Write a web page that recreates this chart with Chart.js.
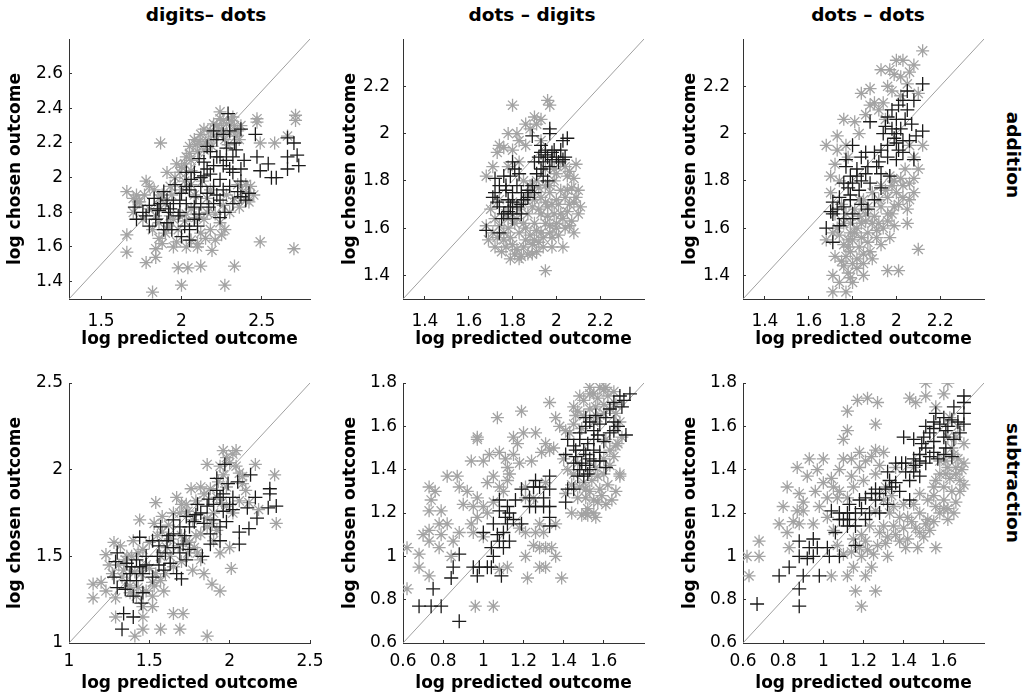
<!DOCTYPE html>
<html>
<head>
<meta charset="utf-8">
<script src="https://cdn.jsdelivr.net/npm/chart.js@4.4.0/dist/chart.umd.min.js"></script>
<style>
  body { margin: 0; background: #fff; }
  #fig { position: relative; width: 1022px; height: 699px; overflow: hidden; font-family: "DejaVu Sans", sans-serif; }
  #fig canvas { position: absolute; }
  .col-title { position: absolute; top: 4px; font-weight: bold; font-size: 18.5px; transform: translateX(-50%); white-space: nowrap; color: #000; }
  .row-label { position: absolute; font-weight: bold; font-size: 18.5px; white-space: nowrap; color: #000;
               transform: translate(-50%, -50%) rotate(90deg); }
</style>
</head>
<body>
<div id="fig">
  <div class="col-title" style="left:206px">digits– dots</div>
  <div class="col-title" style="left:532px">dots – digits</div>
  <div class="col-title" style="left:868px">dots – dots</div>
  <div class="row-label" style="left:1013px; top:155px">addition</div>
  <div class="row-label" style="left:1013px; top:483px">subtraction</div>
  <canvas id="p1" width="330" height="350" style="left:0px; top:0px"></canvas>
  <canvas id="p2" width="330" height="350" style="left:335px; top:0px"></canvas>
  <canvas id="p3" width="320" height="350" style="left:675px; top:0px"></canvas>
  <canvas id="p4" width="330" height="349" style="left:0px; top:350px"></canvas>
  <canvas id="p5" width="330" height="349" style="left:335px; top:350px"></canvas>
  <canvas id="p6" width="320" height="349" style="left:675px; top:350px"></canvas>
</div>
<script>
// ---- data: [log predicted, log chosen] ----
// addition, digits - dots
const addDigDotStar = [[1.87,2.20],[2.24,2.38],[2.47,2.34],[2.47,2.32],[2.71,2.36],[2.71,2.33],[2.66,2.24],[2.49,2.20],[2.58,2.20],[1.66,1.92],[1.78,1.98],[1.73,1.86],[1.66,1.67],[1.66,1.57],[1.78,1.51],[1.84,1.59],[1.84,1.54],[1.82,1.34],[1.98,1.48],[2.00,1.38],[2.04,1.48],[2.12,1.49],[2.27,1.38],[2.33,1.49],[2.49,1.63],[2.70,1.59],[2.10,1.60],[2.19,1.58],[2.27,1.70],[2.21,1.64],[1.95,1.60],[1.91,2.03],[2.40,1.87],[2.43,1.95],
  [2.05,2.18],[2.08,2.22],[2.12,2.25],[2.15,2.20],[2.18,2.27],[2.22,2.30],[2.25,2.28],[2.28,2.31],[2.30,2.26],[2.33,2.30],[2.35,2.27],[2.20,2.24],[2.10,2.15],[2.03,2.12],[2.26,2.33],[2.31,2.33],[2.36,2.22],
  [1.96,2.00],[2.00,2.06],[1.93,1.95],[1.88,1.90],[1.84,1.78],[1.80,1.82],[1.76,1.76],[1.90,1.68],[1.86,1.65],[1.92,1.72],[2.02,1.75],[2.06,1.82],[2.14,1.76],[2.18,1.70],[2.24,1.74],[2.30,1.80],[2.36,1.83],[2.42,1.86],[2.38,1.92],[2.28,1.90],[2.16,1.88],[2.08,1.90],[2.00,1.93],[1.74,1.86],[1.70,1.80],[1.88,1.62],[2.06,1.64],[2.12,1.68],
  [2.02,2.08],[2.06,2.10],[2.09,2.19],[2.14,2.16],[2.17,2.22],[2.19,2.18],[2.23,2.25],[2.27,2.22],[2.29,2.19],[2.34,2.24],[2.37,2.30],[2.32,2.35],[2.24,2.34],[2.20,2.31],[2.14,2.28],[2.11,2.21],[2.05,2.14],[1.99,2.03],[1.97,2.08],[2.02,1.98],[2.06,2.04],[1.94,1.90],[1.90,1.85],[1.86,1.88],[1.83,1.93],[1.80,1.95],[1.77,1.90],[1.72,1.90],[1.70,1.88],[1.82,1.70],[1.86,1.74],[1.95,1.76],[1.98,1.70],[2.03,1.79],[2.09,1.77],[2.16,1.80],[2.21,1.79],[2.26,1.84],[2.33,1.88],[2.40,1.96],[2.45,1.90],[2.35,1.96],[2.18,1.93],[2.13,1.98],[2.10,1.62],[2.03,1.60],[1.97,1.63],[2.15,1.65],[2.25,1.67],[1.93,1.78],[2.06,1.96]];
const addDigDotPlus = [[2.29,2.37],[2.20,2.27],[2.30,2.27],[2.37,2.28],[2.46,2.25],[2.22,2.22],[2.16,2.18],[2.33,2.20],[2.28,2.17],[2.11,2.11],[2.22,2.12],[2.32,2.12],[2.39,2.10],[2.47,2.12],[2.54,2.08],[2.49,2.04],[2.56,2.00],[2.59,2.00],[2.66,2.23],[2.70,2.20],[2.66,2.12],[2.72,2.13],[2.73,2.07],[2.66,2.05],[2.37,1.98],[2.42,1.91],[2.37,1.89],[2.32,1.85],[2.40,1.87],[2.27,1.80],[2.24,1.77],[2.17,1.83],[2.03,2.03],[2.06,1.99],[2.12,1.95],[2.05,1.93],[2.09,1.89],[2.16,1.91],[2.20,1.95],[2.24,1.99],[2.30,2.05],[2.26,2.07],[2.16,2.05],[2.14,2.01],[1.99,1.87],[1.95,1.85],[1.91,1.87],[1.87,1.85],[1.83,1.88],[1.80,1.84],[1.89,1.92],[1.76,1.80],[1.72,1.76],[1.80,1.72],[1.85,1.82],[1.93,1.82],[1.98,1.78],[1.91,1.74],[1.89,1.70],[1.94,1.70],[2.00,1.66],[2.05,1.70],[2.10,1.72],[2.05,1.64],[2.11,1.79],[1.99,1.80],[2.03,1.85],[2.08,1.83],[2.12,1.85],[2.20,1.85],[2.24,1.87],[2.03,1.95],[2.00,1.91],[2.08,2.03],[2.14,2.09],[2.20,2.07],[2.24,2.12],[2.28,2.10],[2.32,2.03],[2.37,2.05],[2.30,1.95],[1.71,1.83],[1.86,1.81],
  [2.18,2.15],[2.26,2.25],[2.34,2.16],[2.12,2.00],[2.18,2.02],[2.26,1.93],[2.22,1.90],[1.96,1.96],[1.92,1.80],[1.84,1.76],[1.78,1.78],[2.02,1.72],[2.08,1.76],[2.35,1.92]];

// addition, dots - digits
const addDotDigStar = [[1.80,2.12],[1.96,2.14],[1.97,2.12],[1.90,2.07],[1.93,2.06],[1.86,2.04],[1.78,2.00],[1.82,2.00],[1.74,1.95],[1.73,1.92],[1.68,1.82],[1.80,1.93],[1.86,1.95],[1.93,1.97],[2.09,1.87],[2.10,1.66],[2.05,1.76],[2.03,1.52],[1.95,1.42],[1.79,1.47],[1.84,1.48],[1.89,1.49],[1.72,1.52],[1.68,1.61],[1.71,1.58],[1.93,1.58],[1.90,1.55],[2.06,1.61],[2.08,1.71],[2.00,1.72],[1.96,1.65],[1.87,1.66],[1.83,1.58],[2.00,1.83],[2.05,1.82],[1.97,1.78],[1.93,1.73],[1.80,1.71],[1.77,1.66],[1.74,1.72],[2.08,1.81],
  [1.84,1.70],[1.88,1.74],[1.92,1.68],[1.95,1.62],[1.98,1.70],[2.02,1.66],[2.04,1.60],[1.90,1.62],[1.86,1.60],[1.82,1.64],[1.78,1.60],[1.76,1.55],[1.80,1.53],[1.86,1.55],[1.94,1.52],[1.98,1.56],[2.02,1.76],[1.99,1.80],[1.95,1.85],[1.91,1.80],[1.88,1.78],[2.04,1.86],[2.06,1.70],[2.10,1.76],[1.72,1.64],[1.75,1.50],[1.83,1.47],[1.97,1.61],[2.00,1.62],[1.92,1.77],
  [1.76,1.58],[1.79,1.56],[1.82,1.51],[1.85,1.52],[1.88,1.57],[1.91,1.59],[1.94,1.56],[1.97,1.58],[2.01,1.57],[2.03,1.64],[2.05,1.67],[2.07,1.63],[2.08,1.58],[1.99,1.66],[1.96,1.69],[1.93,1.66],[1.89,1.69],[1.86,1.72],[1.83,1.68],[1.81,1.62],[1.78,1.64],[1.74,1.61],[1.73,1.56],[1.77,1.52],[1.81,1.49],[1.87,1.49],[1.92,1.54],[1.95,1.71],[2.01,1.70],[2.04,1.73],[2.07,1.77],[2.06,1.84],[2.02,1.88],[1.99,1.85],[1.97,1.75],[1.95,1.78],[1.90,1.72],[1.85,1.80],[1.83,1.88],[1.78,1.86],[1.71,1.86],[1.70,1.68],[1.69,1.55],[1.91,1.50],[1.85,1.62],[2.09,1.73],[2.11,1.69],[1.98,1.52],[2.00,1.60],[1.89,1.53],[1.76,1.94],[1.83,1.97],[1.88,2.02],[1.91,2.04]];
const addDotDigPlus = [[1.97,2.02],[1.97,2.00],[1.89,1.99],[1.93,1.95],[2.05,1.98],[2.03,1.97],[1.95,1.93],[1.99,1.93],[2.02,1.93],[1.93,1.92],[1.96,1.90],[2.00,1.90],[2.03,1.89],[1.94,1.88],[1.90,1.88],[1.91,1.83],[1.94,1.82],[1.96,1.80],[1.93,1.85],[1.97,1.86],[1.80,1.88],[1.81,1.85],[1.83,1.83],[1.79,1.82],[1.76,1.82],[1.72,1.81],[1.74,1.78],[1.77,1.76],[1.80,1.75],[1.84,1.75],[1.87,1.76],[1.89,1.78],[1.90,1.75],[1.71,1.73],[1.73,1.71],[1.74,1.69],[1.76,1.66],[1.80,1.71],[1.79,1.69],[1.80,1.66],[1.84,1.66],[1.75,1.64],[1.80,1.64],[1.68,1.59],[1.74,1.58],[1.87,1.73],[1.82,1.78],[1.78,1.72],[1.98,1.92],[2.01,1.88],
  [1.95,1.91],[1.98,1.89],[2.04,1.90],[1.92,1.90],[1.85,1.72],[1.77,1.78],[1.82,1.69],[1.72,1.75],[1.78,1.67],[1.84,1.70]];

// addition, dots - dots
const addDotDotStar = [[2.12,2.35],[2.00,2.31],[2.03,2.31],[2.08,2.29],[1.93,2.27],[1.99,2.25],[2.02,2.24],[1.88,2.19],[1.84,2.17],[1.96,2.20],[1.90,2.13],[1.94,2.13],[1.76,2.06],[1.81,2.05],[1.68,1.95],[1.73,1.99],[1.73,1.93],[1.70,1.82],[2.08,1.90],[2.12,1.95],[2.08,1.81],[2.08,1.75],[2.00,1.75],[1.99,1.69],[1.96,1.66],[2.02,1.81],[2.06,1.79],[1.68,1.55],[1.72,1.48],[1.71,1.40],[1.76,1.44],[1.78,1.41],[1.80,1.45],[1.71,1.33],[1.77,1.33],[1.80,1.37],[1.85,1.40],[1.85,1.45],[1.96,1.42],[2.01,1.42],[2.10,1.51],[1.87,1.58],[1.91,1.59],[1.83,1.52],[1.80,1.55],[1.90,1.65],[1.93,1.69],[1.87,1.69],[1.96,1.73],[1.93,1.78],[1.83,1.72],[1.79,1.58],
  [1.76,1.62],[1.78,1.52],[1.82,1.60],[1.86,1.63],[1.88,1.50],[1.84,1.56],[1.92,1.62],[1.98,1.78],[2.04,1.85],[1.97,1.82],[1.74,1.57],[1.77,1.48],[1.75,1.70],[1.72,1.66],[1.95,2.06],[1.92,2.10],[1.86,2.08],[2.05,2.21],[1.98,2.18],[1.78,1.90],[2.06,1.95],[2.10,1.85],
  [1.78,1.55],[1.81,1.58],[1.84,1.62],[1.86,1.66],[1.89,1.62],[1.91,1.56],[1.94,1.60],[1.96,1.63],[1.98,1.66],[2.01,1.70],[2.03,1.73],[2.05,1.68],[1.99,1.61],[1.93,1.53],[1.89,1.47],[1.85,1.49],[1.82,1.47],[1.79,1.50],[1.76,1.53],[1.73,1.60],[1.77,1.66],[1.81,1.68],[1.85,1.72],[1.89,1.75],[1.92,1.72],[1.95,1.76],[1.99,1.80],[2.03,1.78],[2.05,1.62],[1.97,1.56],[1.75,1.46],[1.79,1.39],[1.74,1.37],[1.82,1.43],[1.87,1.54],[1.83,1.65],[1.79,1.62],[1.71,1.58],[1.70,1.75],[1.74,1.80],[1.72,1.87],[1.77,1.95],[1.83,2.00],[1.88,2.12],[1.97,2.27],[2.06,2.26],[2.10,2.17],[2.02,2.16],[2.06,1.72]];
const addDotDotPlus = [[2.12,2.21],[2.05,2.18],[2.03,2.14],[2.08,2.14],[2.01,2.12],[2.05,2.10],[1.88,2.05],[1.96,2.07],[2.00,2.06],[1.98,2.02],[2.02,2.02],[1.94,2.00],[2.12,2.01],[2.09,1.99],[2.06,1.97],[2.03,1.97],[2.00,1.96],[1.96,1.95],[1.93,1.93],[1.90,1.92],[2.03,1.92],[2.08,1.89],[2.00,1.89],[1.96,1.90],[1.80,1.95],[1.84,1.90],[1.77,1.89],[1.77,1.86],[1.82,1.85],[1.87,1.86],[1.91,1.86],[1.93,1.83],[1.97,1.82],[1.79,1.82],[1.76,1.79],[1.80,1.79],[1.84,1.80],[1.88,1.79],[1.93,1.77],[1.83,1.76],[1.79,1.74],[1.74,1.73],[1.71,1.71],[1.76,1.69],[1.70,1.67],[1.79,1.72],[1.80,1.66],[1.80,1.64],[1.76,1.64],[1.74,1.61],[1.87,1.68],[1.90,1.72],[1.68,1.60],[1.71,1.54],[1.71,1.66],[1.99,1.98],[1.86,1.83],
  [1.98,2.10],[2.04,2.06],[1.95,2.03],[2.01,1.93],[1.92,1.88],[1.86,1.92],[1.82,1.82],[1.78,1.77],[1.73,1.68],[1.84,1.70],[2.07,2.04],[2.00,2.00]];

// subtraction, digits - dots
const subDigDotStar = [[1.96,2.11],[2.02,2.09],[2.04,2.11],[1.86,2.03],[1.94,2.02],[2.16,2.03],[2.28,1.97],[2.29,1.69],[2.01,1.43],[1.94,1.30],[1.89,1.34],[1.86,1.04],[1.69,1.08],[1.71,1.17],[1.65,1.17],[1.57,1.08],[1.46,1.08],[1.41,1.04],[1.46,1.15],[1.29,1.15],[1.15,1.26],[1.15,1.34],[1.23,1.30],[1.29,1.26],[1.28,1.58],[1.23,1.51],[1.44,1.71],[1.53,1.69],[1.54,1.81],[1.67,1.84],[1.76,1.89],[1.82,1.90],[1.53,1.33],[1.59,1.30],[1.52,1.27],[1.52,1.21],[1.42,1.27],[1.46,1.21],[1.77,1.42],[1.84,1.40],[1.82,1.48],[1.73,1.59],[1.82,1.63],[1.77,1.71],[1.90,1.75],[1.98,1.79],[1.90,1.59],[2.06,1.82],[2.02,1.75],[1.94,1.52],[2.00,1.55],[1.61,1.55],[1.57,1.50],[1.65,1.44],[1.40,1.59],[1.36,1.50],[2.06,1.98],[1.69,1.75],[1.73,1.80],
  [1.62,1.68],[1.70,1.62],[1.78,1.55],[1.86,1.72],[1.92,1.84],[1.98,1.90],[2.08,1.92],[1.34,1.42],[1.38,1.33],[1.48,1.45],[1.45,1.40],[1.32,1.56],[1.60,1.40],
  [1.70,1.80],[1.74,1.76],[1.79,1.82],[1.84,1.86],[1.88,1.89],[1.93,1.93],[1.96,1.97],[2.00,2.04],[1.98,2.07],[2.04,2.02],[2.08,1.96],[2.10,1.88],[1.95,1.81],[1.86,1.67],[1.79,1.62],[1.75,1.58],[1.68,1.56],[1.63,1.60],[1.58,1.64],[1.55,1.62],[1.50,1.58],[1.46,1.54],[1.43,1.52],[1.39,1.50],[1.35,1.48],[1.31,1.45],[1.27,1.40],[1.33,1.38],[1.41,1.41],[1.50,1.43],[1.54,1.40],[1.57,1.36],[1.52,1.35],[1.48,1.30],[1.43,1.32],[1.38,1.29],[1.63,1.50],[1.70,1.47],[1.74,1.52],[1.80,1.52],[1.89,1.69],[1.92,1.65],[2.12,1.81],[2.18,1.77],[1.65,1.75],[1.58,1.73],[1.20,1.35],[1.25,1.45]];
const subDigDotPlus = [[1.97,2.03],[1.92,1.95],[1.99,1.92],[2.05,1.93],[2.13,1.97],[2.25,1.89],[2.25,1.86],[2.16,1.84],[2.29,1.79],[2.24,1.78],[2.17,1.72],[2.12,1.66],[2.06,1.64],[2.06,1.57],[2.11,1.78],[2.02,1.84],[2.00,1.80],[1.94,1.84],[1.90,1.80],[1.86,1.79],[1.82,1.75],[1.80,1.80],[1.90,1.71],[1.94,1.67],[1.88,1.63],[1.94,1.59],[1.88,1.57],[1.83,1.50],[1.73,1.73],[1.69,1.67],[1.75,1.67],[1.65,1.63],[1.61,1.59],[1.65,1.55],[1.69,1.52],[1.75,1.54],[1.73,1.48],[1.63,1.46],[1.59,1.42],[1.67,1.40],[1.70,1.37],[1.55,1.50],[1.52,1.59],[1.44,1.61],[1.48,1.50],[1.42,1.48],[1.39,1.44],[1.46,1.40],[1.52,1.38],[1.36,1.36],[1.42,1.36],[1.30,1.52],[1.29,1.47],[1.28,1.38],[1.30,1.32],[1.35,1.31],[1.40,1.27],[1.45,1.23],[1.40,1.15],[1.34,1.17],[1.33,1.08],[1.46,1.29],[1.65,1.71],[1.57,1.67],
  [1.78,1.70],[1.84,1.69],[1.60,1.52],[1.56,1.45],[1.36,1.46],[1.96,1.76],[1.98,1.70],
  [1.92,1.88],[1.87,1.83],[1.96,1.86],[1.79,1.74],[1.72,1.62],[1.62,1.62],[1.56,1.56],[1.48,1.45],[1.44,1.44],[1.38,1.40],[2.02,1.77],[1.71,1.57]];

// subtraction, dots - digits
const subDotDigStar = [[1.53,1.78],[1.61,1.78],[1.55,1.75],[1.45,1.69],[1.50,1.72],[1.36,1.64],[1.33,1.71],[1.19,1.67],[1.07,1.64],[1.26,1.57],[1.20,1.57],[1.15,1.55],[0.97,1.55],[0.97,1.54],[1.31,1.52],[1.33,1.49],[1.08,1.48],[1.03,1.47],[1.00,1.44],[0.94,1.44],[1.15,1.47],[1.12,1.41],[0.82,1.37],[0.87,1.37],[0.88,1.32],[0.73,1.32],[0.74,1.26],[0.73,1.21],[0.79,1.21],[0.78,1.15],[0.82,1.15],[0.88,1.11],[0.73,1.12],[0.73,1.07],[0.78,1.04],[0.62,1.04],[0.85,1.07],[0.68,1.01],[0.68,0.95],[0.84,1.00],[0.73,0.91],[0.62,0.85],[0.96,0.77],[1.05,0.77],[0.95,1.23],[1.00,1.23],[0.97,1.18],[0.95,1.11],[1.02,1.34],[1.05,1.37],[1.08,1.32],[1.12,1.35],[1.21,1.27],[1.25,1.27],[1.21,1.32],[1.21,1.11],[1.26,1.11],[1.30,1.11],[1.28,1.04],[1.31,1.04],[1.36,1.00],[1.28,0.95],[1.31,0.95],[1.39,0.90],[1.21,1.00],[1.22,0.90],[1.12,0.95],[1.08,0.94],[1.36,1.15],[1.31,1.34],[1.38,1.60],
  [1.51,1.27],[1.55,1.20],[1.51,1.20],[1.61,1.24],[1.58,1.31],[1.68,1.37],[1.68,1.38],[1.65,1.46],[1.66,1.51],[1.61,1.54],[1.45,1.38],[1.48,1.32],[1.41,1.29],[1.45,1.61],[1.41,1.58],[1.60,1.38],[1.56,1.41],[1.53,1.30],[1.57,1.25],[1.63,1.42],[1.50,1.34],[1.52,1.19],[1.46,1.65],[1.56,1.69],[1.62,1.74],[1.60,1.66],[1.66,1.60],[1.57,1.73],[1.66,1.70],[1.54,1.35],
  [1.47,1.67],[1.50,1.65],[1.53,1.68],[1.57,1.64],[1.60,1.70],[1.63,1.68],[1.66,1.66],[1.68,1.62],[1.69,1.55],[1.67,1.52],[1.63,1.49],[1.60,1.45],[1.57,1.37],[1.62,1.33],[1.66,1.30],[1.64,1.26],[1.59,1.28],[1.55,1.26],[1.51,1.31],[1.47,1.27],[1.44,1.33],[1.42,1.40],[1.47,1.43],[1.52,1.22],[1.56,1.18],[1.49,1.19],[1.44,1.20],[1.40,1.45],[1.43,1.57],[1.49,1.59],[1.55,1.62],[1.60,1.77],[1.65,1.76],[1.58,1.78],[1.53,1.75],[1.48,1.74],[1.35,1.50],[1.29,1.48],[1.24,1.44],[1.18,1.43],[1.13,1.38],[1.10,1.30],[1.05,1.25],[1.02,1.20],[0.97,1.27],[0.92,1.30],[0.90,1.24],[0.94,1.15],[1.00,1.09],[1.25,1.05],[1.34,1.04],[1.18,1.13],[1.28,1.15],[0.79,1.10],[0.76,1.30],[0.70,1.10],[1.11,1.45],[1.17,1.52]];
const subDotDigPlus = [[1.73,1.75],[1.70,1.72],[1.65,1.71],[1.68,1.74],[1.69,1.69],[1.61,1.64],[1.56,1.65],[1.51,1.64],[1.58,1.61],[1.65,1.62],[1.55,1.58],[1.51,1.60],[1.48,1.54],[1.42,1.54],[1.55,1.54],[1.60,1.53],[1.63,1.57],[1.71,1.56],[1.65,1.58],[1.45,1.51],[1.50,1.49],[1.55,1.49],[1.41,1.47],[1.46,1.46],[1.51,1.47],[1.45,1.43],[1.51,1.42],[1.55,1.44],[1.48,1.40],[1.50,1.37],[1.53,1.40],[1.61,1.41],[1.58,1.48],[1.42,1.31],[1.41,1.25],[1.45,1.31],[1.26,1.35],[1.33,1.37],[1.25,1.32],[1.33,1.31],[1.30,1.27],[1.23,1.27],[1.26,1.23],[1.33,1.23],[1.30,1.23],[1.33,1.18],[1.33,1.14],[1.19,1.31],[1.16,1.26],[1.08,1.26],[1.08,1.21],[1.12,1.23],[1.13,1.20],[1.15,1.17],[1.19,1.15],[1.12,1.15],[1.05,1.15],[1.00,1.11],[1.10,1.11],[1.08,1.07],[1.13,1.07],[1.10,1.04],[1.04,1.04],[1.05,1.00],[0.98,0.95],[1.02,0.95],[0.95,0.95],[1.04,0.95],[0.97,0.91],[1.09,0.91],[0.88,1.01],[0.85,0.95],[0.84,0.90],[0.75,0.85],[0.68,0.77],[0.74,0.77],[0.79,0.77],[0.88,0.70],
  [1.53,1.62],[1.57,1.56],[1.48,1.57],[1.52,1.52],[1.46,1.49],[1.58,1.44],[1.53,1.45],[1.49,1.43],[1.63,1.68],[1.67,1.60],[1.28,1.32],[1.23,1.23],[1.11,1.18],[1.07,1.10],[1.52,1.38],[1.47,1.37]];

// subtraction, dots - dots
const subDotDotStar = [[1.51,1.80],[1.62,1.80],[1.60,1.75],[1.51,1.74],[1.46,1.71],[1.43,1.73],[1.56,1.69],[1.17,1.72],[1.22,1.73],[1.27,1.71],[1.12,1.67],[1.26,1.61],[1.12,1.58],[1.10,1.54],[1.10,1.45],[1.14,1.45],[1.00,1.45],[0.93,1.45],[0.97,1.40],[0.87,1.41],[1.00,1.34],[1.05,1.32],[1.08,1.30],[1.26,1.49],[1.30,1.48],[1.21,1.44],[1.18,1.41],[0.92,1.37],[0.88,1.29],[0.80,1.23],[0.87,1.21],[0.90,1.21],[0.82,1.11],[0.83,1.04],[0.88,1.15],[0.68,1.07],[0.62,1.00],[0.68,1.00],[0.63,0.91],[0.95,1.15],[0.98,1.23],[1.02,1.27],[1.04,0.91],[1.12,0.91],[1.16,0.84],[1.26,0.84],[1.19,0.77],[1.21,0.91],[1.15,0.95],[1.19,1.00],[1.24,0.95],[1.25,1.01],[1.32,1.00],[1.28,1.11],[1.38,1.07],[1.41,1.04],[1.47,1.04],[1.56,1.04],[1.48,1.11],[1.51,1.15],[1.56,1.23],[1.60,1.26],[1.62,1.17],[1.45,1.24],[1.48,1.29],[1.55,1.32],[1.61,1.38],[1.66,1.41],[1.70,1.43],[1.68,1.35],[1.65,1.47],[1.70,1.52],[1.56,1.35],[1.45,1.41],[1.36,1.41],[1.31,1.32],[1.15,1.32],[1.12,1.27],[1.07,1.27],[1.30,1.14],[1.35,1.14],[1.21,1.07],[1.31,1.06],
  [1.64,1.30],[1.60,1.22],[1.66,1.25],[1.58,1.44],[1.62,1.55],[1.67,1.60],[1.63,1.64],[1.52,1.17],[1.40,1.24],[1.42,1.18],[0.82,1.32],[0.96,1.30],[1.18,1.04],[1.10,1.01],[1.35,1.23],
  [1.60,1.32],[1.63,1.36],[1.66,1.38],[1.69,1.40],[1.67,1.45],[1.62,1.41],[1.58,1.38],[1.55,1.28],[1.58,1.20],[1.62,1.22],[1.65,1.20],[1.68,1.30],[1.70,1.33],[1.64,1.50],[1.66,1.55],[1.61,1.44],[1.52,1.26],[1.48,1.20],[1.44,1.16],[1.40,1.13],[1.36,1.10],[1.42,1.08],[1.46,1.13],[1.50,1.09],[1.53,1.12],[1.55,1.16],[1.33,1.20],[1.30,1.26],[1.26,1.21],[1.23,1.14],[1.19,1.10],[1.22,1.03],[1.27,1.05],[1.32,1.09],[1.15,1.08],[1.14,1.02],[1.07,1.05],[1.05,1.12],[1.02,1.18],[1.04,1.36],[1.08,1.40],[1.14,1.37],[1.20,1.35],[1.26,1.38],[1.28,1.42],[1.24,1.46],[1.18,1.48],[0.90,1.25],[0.85,1.16],[0.78,1.15],[1.38,1.18],[1.34,1.28]];
const subDotDotPlus = [[1.70,1.74],[1.70,1.71],[1.65,1.69],[1.56,1.66],[1.60,1.64],[1.64,1.63],[1.70,1.66],[1.55,1.62],[1.51,1.60],[1.55,1.59],[1.61,1.58],[1.70,1.61],[1.68,1.57],[1.65,1.54],[1.40,1.55],[1.45,1.54],[1.50,1.55],[1.60,1.55],[1.55,1.53],[1.51,1.50],[1.55,1.48],[1.48,1.47],[1.60,1.47],[1.61,1.50],[1.64,1.46],[1.45,1.45],[1.41,1.43],[1.48,1.44],[1.36,1.43],[1.51,1.43],[1.45,1.39],[1.48,1.37],[1.43,1.35],[1.32,1.39],[1.33,1.35],[1.36,1.34],[1.38,1.30],[1.43,1.26],[1.31,1.31],[1.28,1.29],[1.24,1.29],[1.21,1.27],[1.26,1.26],[1.32,1.24],[1.28,1.20],[1.23,1.20],[1.18,1.26],[1.13,1.24],[1.16,1.20],[1.12,1.20],[1.08,1.20],[1.04,1.21],[1.06,1.11],[1.12,1.14],[1.16,1.14],[1.08,1.17],[1.21,1.17],[1.13,1.17],[1.16,1.05],[1.03,1.00],[1.08,1.00],[0.95,1.08],[0.93,1.04],[0.97,1.04],[0.88,1.07],[0.88,1.00],[0.95,1.00],[0.83,0.95],[0.78,0.91],[0.90,0.91],[0.98,0.91],[0.88,0.85],[0.88,0.77],[0.67,0.78],
  [1.58,1.61],[1.62,1.60],[1.67,1.62],[1.53,1.57],[1.49,1.52],[1.57,1.45],[1.53,1.46],[1.41,1.39],[1.34,1.32],[1.26,1.31],[1.19,1.22],[1.10,1.17],[1.02,1.04],[0.92,0.99],[1.39,1.43],[1.46,1.42]];

// axis limits and tick labels
const topLimits = [1.3, 2.8];
const topXTicks = [1.5, 2, 2.5];
const topYTicks = [1.4, 1.6, 1.8, 2, 2.2, 2.4, 2.6];
const midLimits = [1.3, 2.4];
const midXTicks = [1.4, 1.6, 1.8, 2, 2.2];
const midYTicks = [1.4, 1.6, 1.8, 2, 2.2];
const subLimitsA = [1, 2.5];
const subTicksA = [1, 1.5, 2, 2.5];
const subLimitsB = [0.6, 1.8];
const subXTicksB = [0.6, 0.8, 1, 1.2, 1.4, 1.6];
const subYTicksB = [0.6, 0.8, 1, 1.2, 1.4, 1.6, 1.8];

const FONT = "'DejaVu Sans', sans-serif";

function toXY(arr) {
  return arr.map(function (p) { return { x: p[0], y: p[1] }; });
}

function fmt(v) {
  return String(Number(v.toFixed(2)));
}

function makePanel(id, cfg) {
  const ctx = document.getElementById(id).getContext('2d');
  const lim = cfg.limits;
  new Chart(ctx, {
    type: 'scatter',
    data: {
      datasets: [
        {
          data: toXY(cfg.plus),
          pointStyle: 'cross',
          pointRadius: 7,
          pointBorderColor: '#1a1a1a',
          pointBorderWidth: 1.3,
          order: 0
        },
        {
          data: toXY(cfg.star),
          pointStyle: 'star',
          pointRadius: 6.5,
          pointBorderColor: '#a3a3a3',
          pointBorderWidth: 1.3,
          order: 1
        },
        {
          // identity line
          data: [{ x: lim[0], y: lim[0] }, { x: lim[1], y: lim[1] }],
          showLine: true,
          borderColor: '#a0a0a0',
          borderWidth: 1,
          pointRadius: 0,
          order: 2
        }
      ]
    },
    options: {
      responsive: false,
      animation: false,
      events: [],
      layout: { padding: { top: cfg.padTop, right: cfg.padRight, left: 0, bottom: 0 } },
      plugins: { legend: { display: false }, tooltip: { enabled: false } },
      scales: {
        x: {
          type: 'linear',
          min: lim[0],
          max: lim[1],
          afterBuildTicks: function (s) { s.ticks = cfg.xTicks.map(function (v) { return { value: v }; }); },
          afterFit: function (s) { s.height = cfg.xHeight; s.paddingLeft = 0; s.paddingRight = 0; },
          border: { display: true, color: '#333', width: 1 },
          grid: { drawOnChartArea: false, drawTicks: true, tickLength: -3, color: '#333' },
          ticks: {
            autoSkip: false, maxRotation: 0, padding: cfg.xTickPad,
            color: '#000', font: { family: FONT, size: 17 },
            callback: function (v) { return fmt(v); }
          },
          title: {
            display: true, text: 'log predicted outcome', color: '#000',
            font: { family: FONT, size: 17, weight: 'bold', lineHeight: 1 },
            padding: { top: 0, bottom: cfg.xTitlePad }
          }
        },
        y: {
          type: 'linear',
          min: lim[0],
          max: lim[1],
          afterBuildTicks: function (s) { s.ticks = cfg.yTicks.map(function (v) { return { value: v }; }); },
          afterFit: function (s) { s.width = cfg.yWidth; s.paddingTop = 0; s.paddingBottom = 0; },
          border: { display: true, color: '#333', width: 1 },
          grid: { drawOnChartArea: false, drawTicks: true, tickLength: -3, color: '#333' },
          ticks: {
            autoSkip: false, padding: cfg.yTickPad,
            color: '#000', font: { family: FONT, size: 17 },
            callback: function (v) { return fmt(v); }
          },
          title: {
            display: true, text: 'log chosen outcome', color: '#000',
            font: { family: FONT, size: 17, weight: 'bold', lineHeight: 1 },
            padding: { top: 7, bottom: 0 }
          }
        }
      }
    }
  });
}

const row1 = { padTop: 39, xHeight: 51, xTickPad: 15, xTitlePad: 2 };
const row2 = { padTop: 33, xHeight: 56, xTickPad: 11, xTitlePad: 7 };

makePanel('p1', Object.assign({}, row1, { star: addDigDotStar, plus: addDigDotPlus, limits: topLimits, xTicks: topXTicks, yTicks: topYTicks, yWidth: 69, padRight: 20, yTickPad: 9 }));
makePanel('p2', Object.assign({}, row1, { star: addDotDigStar, plus: addDotDigPlus, limits: midLimits, xTicks: midXTicks, yTicks: midYTicks, yWidth: 68, padRight: 21, yTickPad: 16 }));
makePanel('p3', Object.assign({}, row1, { star: addDotDotStar, plus: addDotDotPlus, limits: midLimits, xTicks: midXTicks, yTicks: midYTicks, yWidth: 68, padRight: 11, yTickPad: 16 }));
makePanel('p4', Object.assign({}, row2, { star: subDigDotStar, plus: subDigDotPlus, limits: subLimitsA, xTicks: subTicksA, yTicks: subTicksA, yWidth: 69, padRight: 20, yTickPad: 9 }));
makePanel('p5', Object.assign({}, row2, { star: subDotDigStar, plus: subDotDigPlus, limits: subLimitsB, xTicks: subXTicksB, yTicks: subYTicksB, yWidth: 68, padRight: 21, yTickPad: 9 }));
makePanel('p6', Object.assign({}, row2, { star: subDotDotStar, plus: subDotDotPlus, limits: subLimitsB, xTicks: subXTicksB, yTicks: subYTicksB, yWidth: 68, padRight: 11, yTickPad: 9 }));
</script>
</body>
</html>
